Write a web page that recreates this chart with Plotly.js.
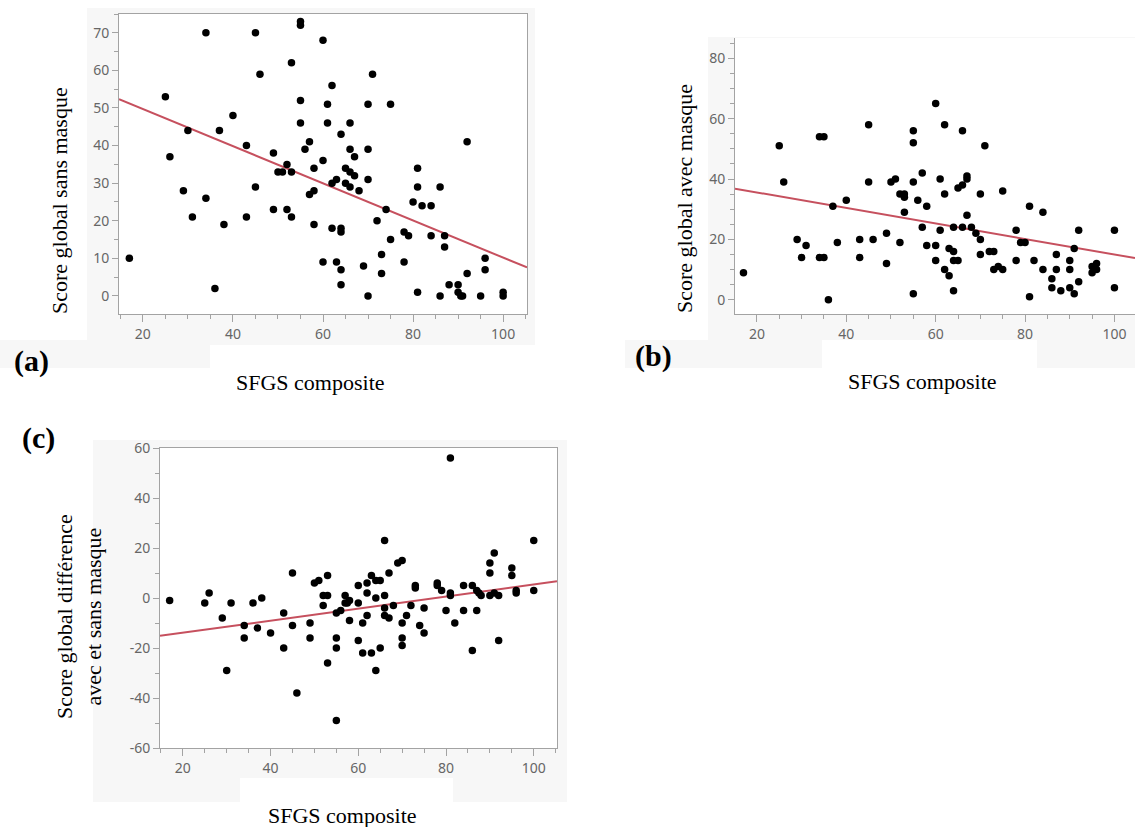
<!DOCTYPE html>
<html>
<head>
<meta charset="utf-8">
<script src="https://cdn.plot.ly/plotly-3.0.1.min.js"></script>
<style>
html,body{margin:0;padding:0;background:#fff;}
#chart{width:1135px;height:827px;}
</style>
</head>
<body>
<div id="chart"></div>
<script>
// ---------- DATA ----------
const xTitle = "SFGS composite";
const yTitleA = "Score global sans masque";
const yTitleB = "Score global avec masque";
const yTitleC = "Score global différence<br>avec et sans masque";
const panelLabels = ["(a)", "(b)", "(c)"];

// Panel (a): SFGS composite vs score sans masque
const xA = [17,25,26,29,30,31,34,34,36,37,38,40,43,43,45,45,46,49,49,50,51,52,52,53,53,53,55,55,55,55,56,57,60,71,62,61,70,75,61,66,64,66,70,67,60,58,65,66,67,70,62,63,65,66,68,57,58,81,86,81,80,82,84,74,92,72,58,62,64,64,78,79,84,87,87,75,73,78,60,63,69,64,73,96,96,92,64,88,90,90,90.6,91,81,86,70,95,100,100];
const yA = [10,53,37,28,44,21,70,26,2,44,19,48,40,21,70,29,59,38,23,33,33,35,23,33,62,21,73,72,52,46,39,41,68,59,56,51,51,51,46,46,43,39,39,37,36,34,34,33,32,31,30,31,30,29,28,27,28,34,29,29,25,24,24,23,41,20,19,18,18,17,17,16,16,16,13,15,11,9,9,9,8,7,6,10,7,6,3,3,3,1,0,0,1,0,0,0,1,0];
const fitA = [59.6, -0.494];   // intercept, slope

// Panel (b): SFGS composite vs score avec masque
const xB = [17,25,26,29,31,30,34,35,34,35,36,37,38,40,43,43,45,45,46,49,49,50,51,52,53,53,53,52,55,55,55,55,56,57,57,58,58,60,60,60,61,61,62,62,62,63,63,64,64,64,65,64,65,66,66,66,67,67,67,68,69,70,70,70,71,72,73,73,74,75,75,78,78,79,80,81,81,82,84,84,86,86,87,87,88,90,90,90,91,91,92,92,95,95,96,96,100,100];
const yB = [9,51,39,20,18,14,54,54,14,14,0,31,19,33,20,14,58,39,20,22,12,39,40,35,35,34,29,19,56,52,39,2,33,42,24,31,18,18,65,13,40,23,58,35,10,8,17,16,24,13,13,3,37,38,56,24,40,41,28,24,22,20,35,15,51,16,16,10,11,10,36,23,13,19,19,31,1,13,29,10,7,4,15,10,3,13,10,4,2,17,23,6,11,9,10,12,23,4];
const fitB = [40.7, -0.257];

// Panel (c): SFGS composite vs différence avec et sans masque
const xC = [17,25,26,29,31,30,34,34,36,37,38,40,43,43,45,45,46,49,49,50,51,53,52,53,52,53,55,55,55,55,56,57,57,57.5,58,58,60,60,60,61,61,62,62,62,63,63,64,64,64,65,65,66,66,66,66,67,67,68,69,70,70,70,70,71,72,73,73,74,75,75,78,78,79,80,81,81,81,82,84,84,86,86,87,87.5,88,87,90,91,90,90,91,92,92,95,95,96,96,100,100];
const yC = [-1,-2,2,-8,-2,-29,-11,-16,-2,-12,0,-14,-6,-20,10,-11,-38,-10,-16,6,7,9,1,1,-3,-26,-6,-16,-20,-49,-5,1,-2,-2,-1,-9,5,-2,-17,-10,-22,6,2,-7,9,-22,7,0,-29,-20,7,23,1,-4,-7,10,-8,-3,14,15,-10,-16,-19,-7,-3,5,4,-11,-4,-14,6,5,3,-5,56,2,1,-10,5,-5,-21,5,3,2,1,-5,1,2,14,10,18,1,-17,12,9,3,2,23,3];
const fitC = [-18.7, 0.241];

// Axis ranges and ticks
const xRangeA = [14.7, 105.3], yRangeA = [-4.8, 75];
const xRangeB = [15.1, 104.6], yRangeB = [-4.7, 86.7];
const xRangeC = [14.8, 105.3], yRangeC = [-60, 60];
const xTicks = [20, 40, 60, 80, 100];
const yTicksA = [0, 10, 20, 30, 40, 50, 60, 70];
const yTicksB = [0, 20, 40, 60, 80];
const yTicksC = [-60, -40, -20, 0, 20, 40, 60];

// ---------- STYLE ----------
const W = 1135, H = 827;
const px = v => v / W;
const py = v => 1 - v / H;
const dotColor = "#000000";
const lineColor = "rgb(198,80,94)";
const axisGray = "#a3a3a3";
const tickFont = {family: "Noto Sans, Open Sans, sans-serif", size: 14, color: "#666666"};
const serif = "Liberation Serif, Times New Roman, serif";

function fitLine(fit, range) {
  return range.map(x => fit[0] + fit[1] * x);
}

function scatter(x, y, xa, ya) {
  return {x: x, y: y, xaxis: xa, yaxis: ya, type: "scatter", mode: "markers",
          marker: {color: dotColor, size: 7.5}, hoverinfo: "x+y", showlegend: false};
}
function line(fit, range, xa, ya) {
  return {x: range, y: fitLine(fit, range), xaxis: xa, yaxis: ya, type: "scatter", mode: "lines",
          line: {color: lineColor, width: 2}, hoverinfo: "skip", showlegend: false};
}

const data = [
  line(fitA, xRangeA, "x", "y"), scatter(xA, yA, "x", "y"),
  line(fitB, xRangeB, "x2", "y2"), scatter(xB, yB, "x2", "y2"),
  line(fitC, xRangeC, "x3", "y3"), scatter(xC, yC, "x3", "y3")
];

const label = v => String(v);  // plain hyphen-minus like the reference

function xaxis(domain, range, anchor, mirror, minorDt) {
  return {domain: domain, range: range, anchor: anchor, tickvals: xTicks, ticktext: xTicks.map(label),
          ticks: "outside", ticklen: 7, tickcolor: axisGray, showline: true, linecolor: axisGray, linewidth: 1,
          mirror: mirror, showgrid: false, zeroline: false, tickfont: tickFont,
          minor: {dtick: minorDt, tick0: 0, ticks: "outside", ticklen: 4, tickcolor: axisGray, showgrid: false}};
}
function yaxis(domain, range, anchor, ticks, mirror, minorDt) {
  return {domain: domain, range: range, anchor: anchor, tickvals: ticks, ticktext: ticks.map(label),
          ticks: "outside", ticklen: 6, tickcolor: axisGray, showline: true, linecolor: axisGray, linewidth: 1,
          mirror: mirror, showgrid: false, zeroline: false, tickfont: tickFont,
          minor: {dtick: minorDt, tick0: 0, ticks: "outside", ticklen: 4, tickcolor: axisGray, showgrid: false}};
}

function rect(x0, y0, x1, y1, color) {
  return {type: "rect", xref: "paper", yref: "paper", x0: px(x0), x1: px(x1), y0: py(y1), y1: py(y0),
          fillcolor: color, line: {width: 0}, layer: "below"};
}
const gray = "#f7f7f7";
const shapes = [
  // panel (a) background
  rect(87, 8, 535, 345, gray), rect(0, 340, 210, 368, gray), rect(119, 14, 527, 314, "#ffffff"),
  // panel (b) background
  rect(708, 37, 1135, 340, gray), rect(625, 340, 822, 368, gray), rect(1037, 340, 1135, 368, gray),
  rect(735, 38, 1135, 314, "#ffffff"),
  // panel (c) background
  rect(93, 440, 567, 778, gray), rect(93, 778, 240, 802, gray), rect(453, 778, 567, 802, gray),
  rect(160, 448, 557, 748, "#ffffff")
];

function ann(text, x, y, size, angle, bold) {
  return {text: bold ? "<b>" + text + "</b>" : text, xref: "paper", yref: "paper", x: px(x), y: py(y),
          xanchor: "center", yanchor: "middle", showarrow: false, textangle: angle,
          font: {family: serif, size: size, color: "#000000"}};
}

const layout = {
  width: W, height: H, margin: {l: 0, r: 0, t: 0, b: 0},
  paper_bgcolor: "#ffffff", plot_bgcolor: "#ffffff", showlegend: false,
  xaxis: xaxis([px(119), px(527)], xRangeA, "y", true, 5),
  yaxis: yaxis([py(314), py(14)], yRangeA, "x", yTicksA, true, 5),
  xaxis2: xaxis([px(735), 1], xRangeB, "y2", false, 5),
  yaxis2: yaxis([py(314), py(38)], yRangeB, "x2", yTicksB, false, 5),
  xaxis3: xaxis([px(160), px(557)], xRangeC, "y3", true, 5),
  yaxis3: yaxis([py(748), py(448)], yRangeC, "x3", yTicksC, true, 10),
  shapes: shapes,
  annotations: [
    ann(yTitleA, 60, 201, 22, -90, false),
    ann(xTitle, 310, 382, 22, 0, false),
    ann(panelLabels[0], 31, 361, 30, 0, true),
    ann(yTitleB, 684, 199, 22, -90, false),
    ann(xTitle, 922, 381, 22, 0, false),
    ann(panelLabels[1], 653, 356, 30, 0, true),
    ann(yTitleC, 79, 617, 22, -90, false),
    ann(xTitle, 342, 815, 22, 0, false),
    ann(panelLabels[2], 38, 438, 30, 0, true)
  ]
};

Plotly.newPlot("chart", data, layout, {displayModeBar: false, staticPlot: true});
</script>
</body>
</html>
